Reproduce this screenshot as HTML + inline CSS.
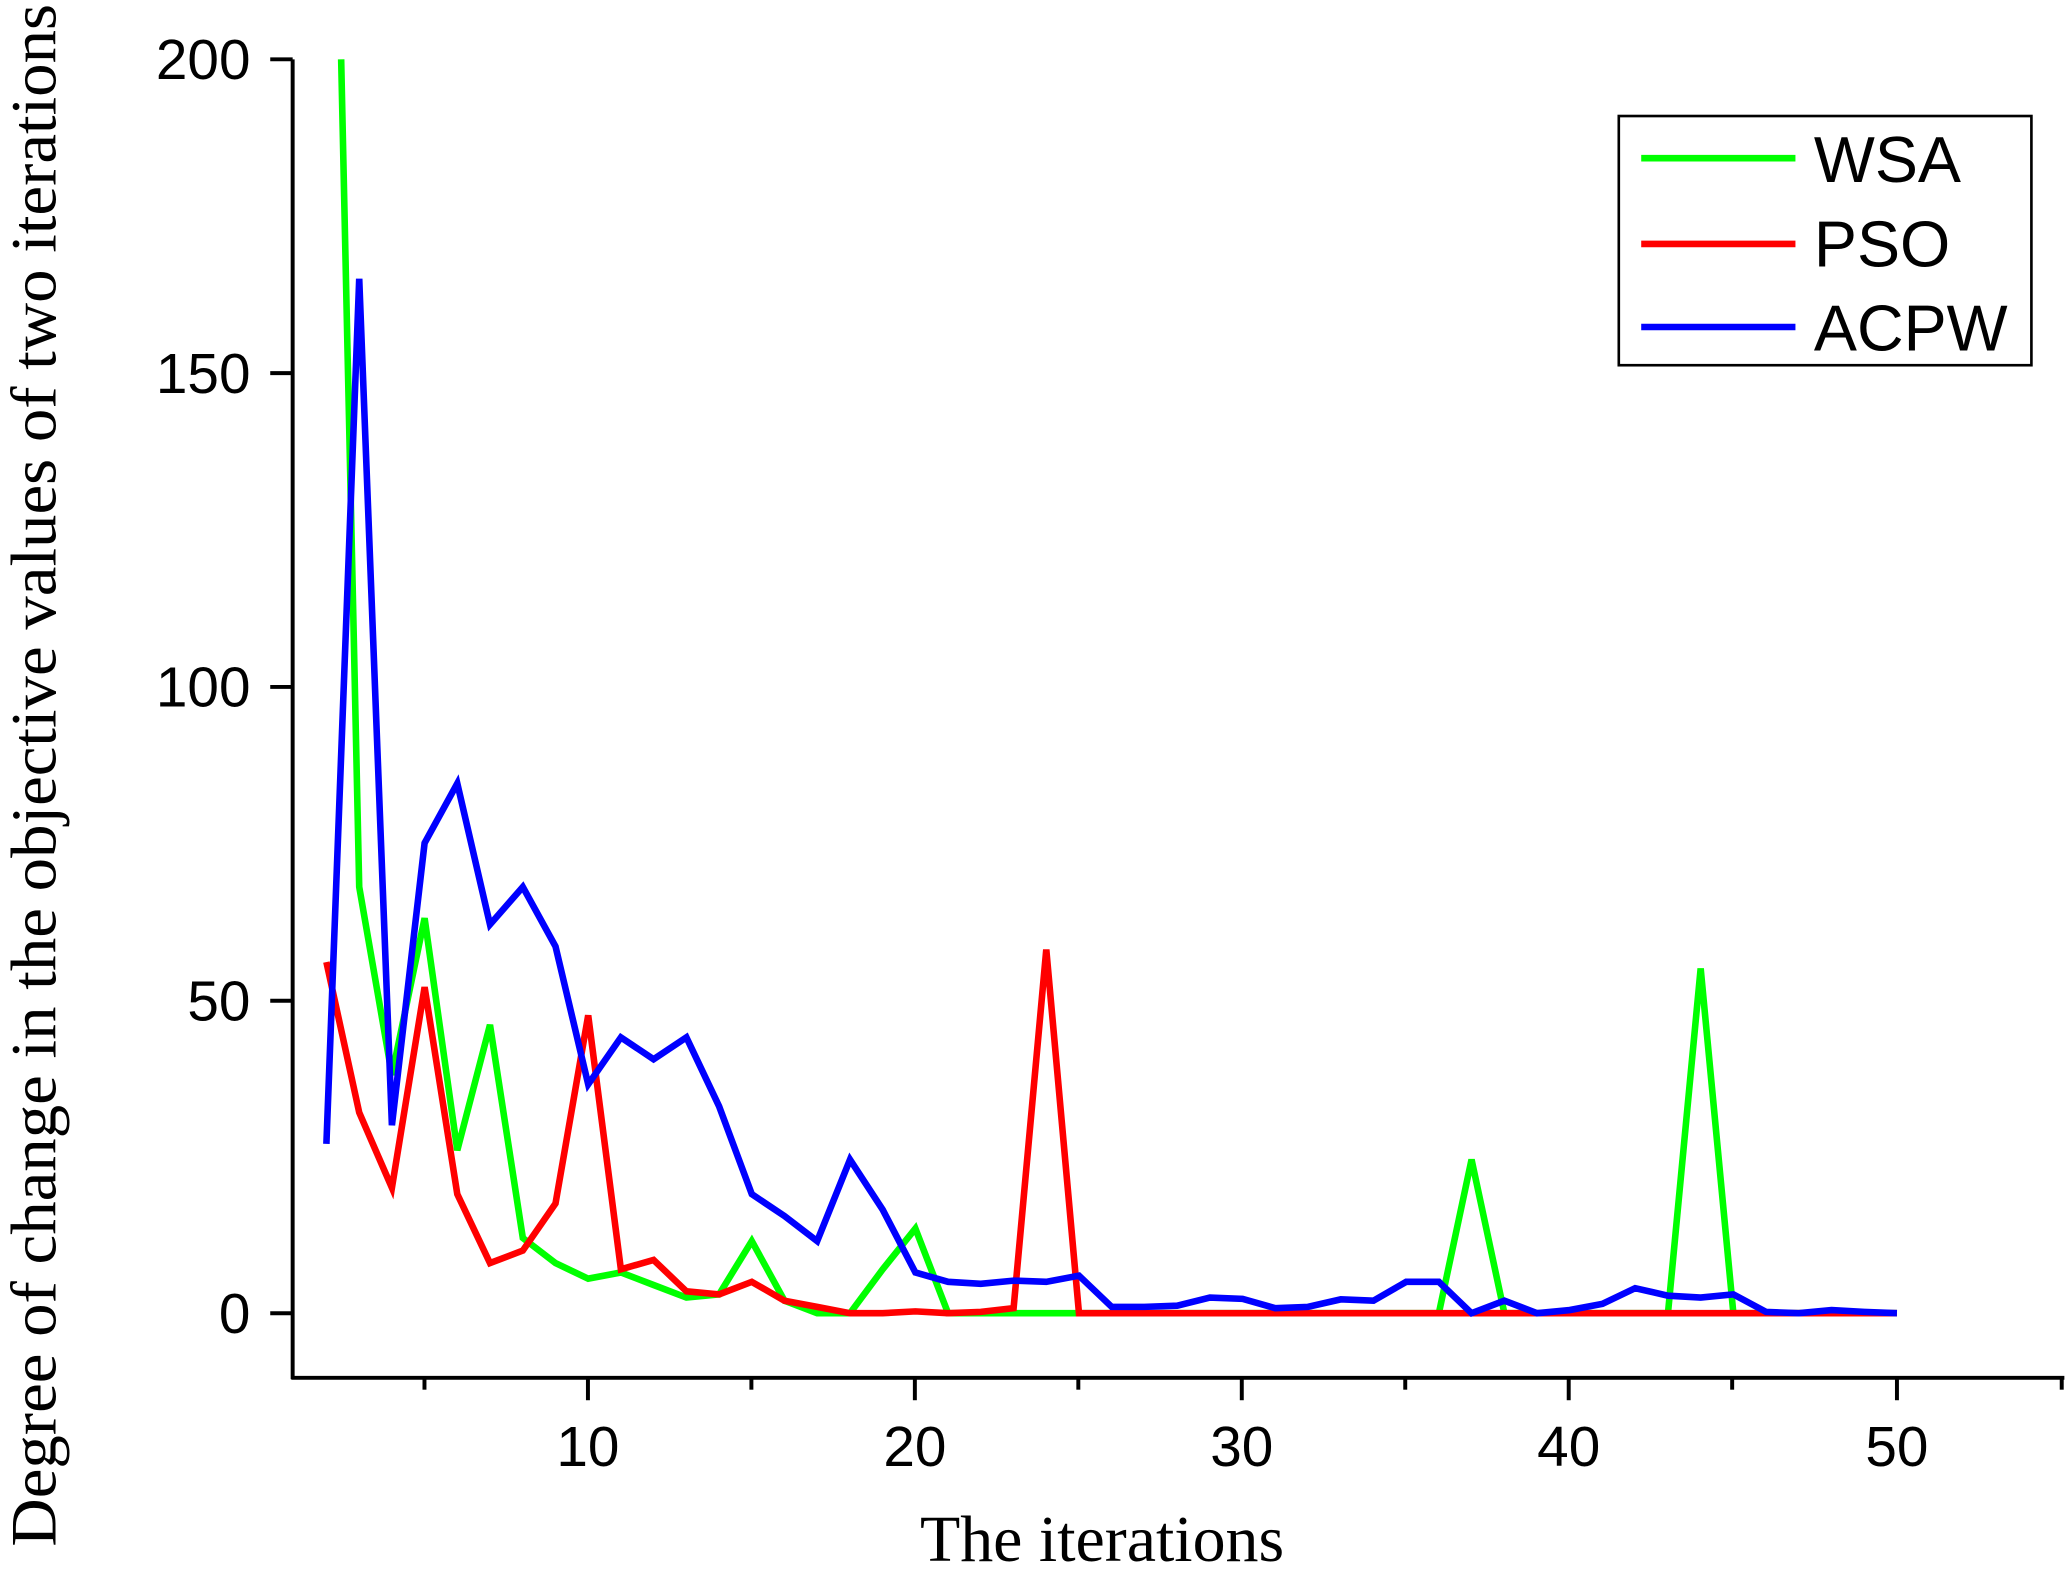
<!DOCTYPE html>
<html><head><meta charset="utf-8"><style>
html,body{margin:0;padding:0;background:#fff;}
svg{display:block;}
</style></head><body>
<svg id="c" width="2067" height="1569" viewBox="0 0 1568 1190" preserveAspectRatio="none" xmlns="http://www.w3.org/2000/svg">
<g stroke="#000" stroke-width="3" fill="none">
<line x1="222" y1="45" x2="222" y2="1046"/>
<line x1="221" y1="1045" x2="1566" y2="1045"/>
<line x1="205" y1="45" x2="222" y2="45"/>
<line x1="205" y1="283" x2="222" y2="283"/>
<line x1="205" y1="521" x2="222" y2="521"/>
<line x1="205" y1="759" x2="222" y2="759"/>
<line x1="205" y1="996" x2="222" y2="996"/>
<line x1="446" y1="1045" x2="446" y2="1062"/>
<line x1="694" y1="1045" x2="694" y2="1062"/>
<line x1="942" y1="1045" x2="942" y2="1062"/>
<line x1="1190" y1="1045" x2="1190" y2="1062"/>
<line x1="1439" y1="1045" x2="1439" y2="1062"/>
<line x1="322" y1="1045" x2="322" y2="1054"/>
<line x1="570" y1="1045" x2="570" y2="1054"/>
<line x1="818" y1="1045" x2="818" y2="1054"/>
<line x1="1066" y1="1045" x2="1066" y2="1054"/>
<line x1="1314" y1="1045" x2="1314" y2="1054"/>
<line x1="1564" y1="1045" x2="1564" y2="1054"/>
</g>
<g font-family="Liberation Sans, Arial, sans-serif" font-size="43" fill="#000" text-anchor="end">
<text x="190" y="60">200</text><text x="190" y="298">150</text><text x="190" y="536">100</text><text x="190" y="774">50</text><text x="190" y="1011">0</text>
</g>
<g font-family="Liberation Sans, Arial, sans-serif" font-size="43" fill="#000" text-anchor="middle">
<text x="446" y="1112">10</text><text x="694" y="1112">20</text><text x="942" y="1112">30</text><text x="1190" y="1112">40</text><text x="1439" y="1112">50</text>
</g>
<text x="836" y="1184" font-family="Liberation Serif, serif" font-size="50" text-anchor="middle">The iterations</text>
<text transform="translate(42,588) rotate(-90)" font-family="Liberation Serif, serif" font-size="49" text-anchor="middle" textLength="1170" lengthAdjust="spacingAndGlyphs">Degree of change in the objective values of two iterations</text>
<g id="lines" fill="none" stroke-width="5" stroke-linejoin="miter"></g>
<rect x="1228" y="88" width="313" height="189" fill="#fff" stroke="#000" stroke-width="2"/>
<g stroke-width="5">
<line x1="1245" y1="120" x2="1362" y2="120" stroke="#00ff00"/>
<line x1="1245" y1="185" x2="1362" y2="185" stroke="#ff0000"/>
<line x1="1245" y1="248" x2="1362" y2="248" stroke="#0000ff"/>
</g>
<g font-family="Liberation Sans, Arial, sans-serif" font-size="49" fill="#000">
<text x="1376" y="138">WSA</text><text x="1376" y="202">PSO</text><text x="1376" y="266">ACPW</text>
</g>
</svg>
<script>
var X=function(i){return 198+24.82*i;},Y=function(v){return 996-4.755*v;};
var wsa=[[2.45,200],[3,68],[4,38],[5,63],[6,26],[7,46],[8,12],[9,8],[10,5.5],[11,6.5],[12,4.5],[13,2.5],[14,3],[15,11.5],[16,2],[17,0],[18,0],[19,7],[20,13.5],[21,0]];
for(var i=22;i<=36;i++)wsa.push([i,0]);wsa.push([37,24.5]);for(i=38;i<=43;i++)wsa.push([i,0]);wsa.push([44,55]);for(i=45;i<=50;i++)wsa.push([i,0]);
var pso=[[2,56],[3,32],[4,20],[5,52],[6,19],[7,8],[8,10],[9,17.5],[10,47.5],[11,7],[12,8.5],[13,3.5],[14,3],[15,5],[16,2],[17,1],[18,0],[19,0],[20,0.3],[21,0],[22,0.2],[23,0.8],[24,58]];
for(i=25;i<=50;i++)pso.push([i,0]);
var ac=[27,165,30,75,84.5,62,68,58.5,36.5,44,40.5,44,33,19,15.5,11.5,24.5,16.5,6.5,5,4.7,5.2,5,6,1,1,1.2,2.5,2.3,0.8,1,2.2,2,5,5,0,2,0,0.5,1.5,4,2.8,2.5,3,0.2,0,0.5,0.2,0];
var acp=ac.map(function(v,k){return [k+2,v];});
function add(d,c){var p=document.createElementNS("http://www.w3.org/2000/svg","polyline");
p.setAttribute("points",d.map(function(q){return X(q[0]).toFixed(1)+","+Y(q[1]).toFixed(1);}).join(" "));
p.setAttribute("stroke",c);document.getElementById("lines").appendChild(p);}
add(wsa,"#00ff00");add(pso,"#ff0000");add(acp,"#0000ff");
</script>
</body></html>
